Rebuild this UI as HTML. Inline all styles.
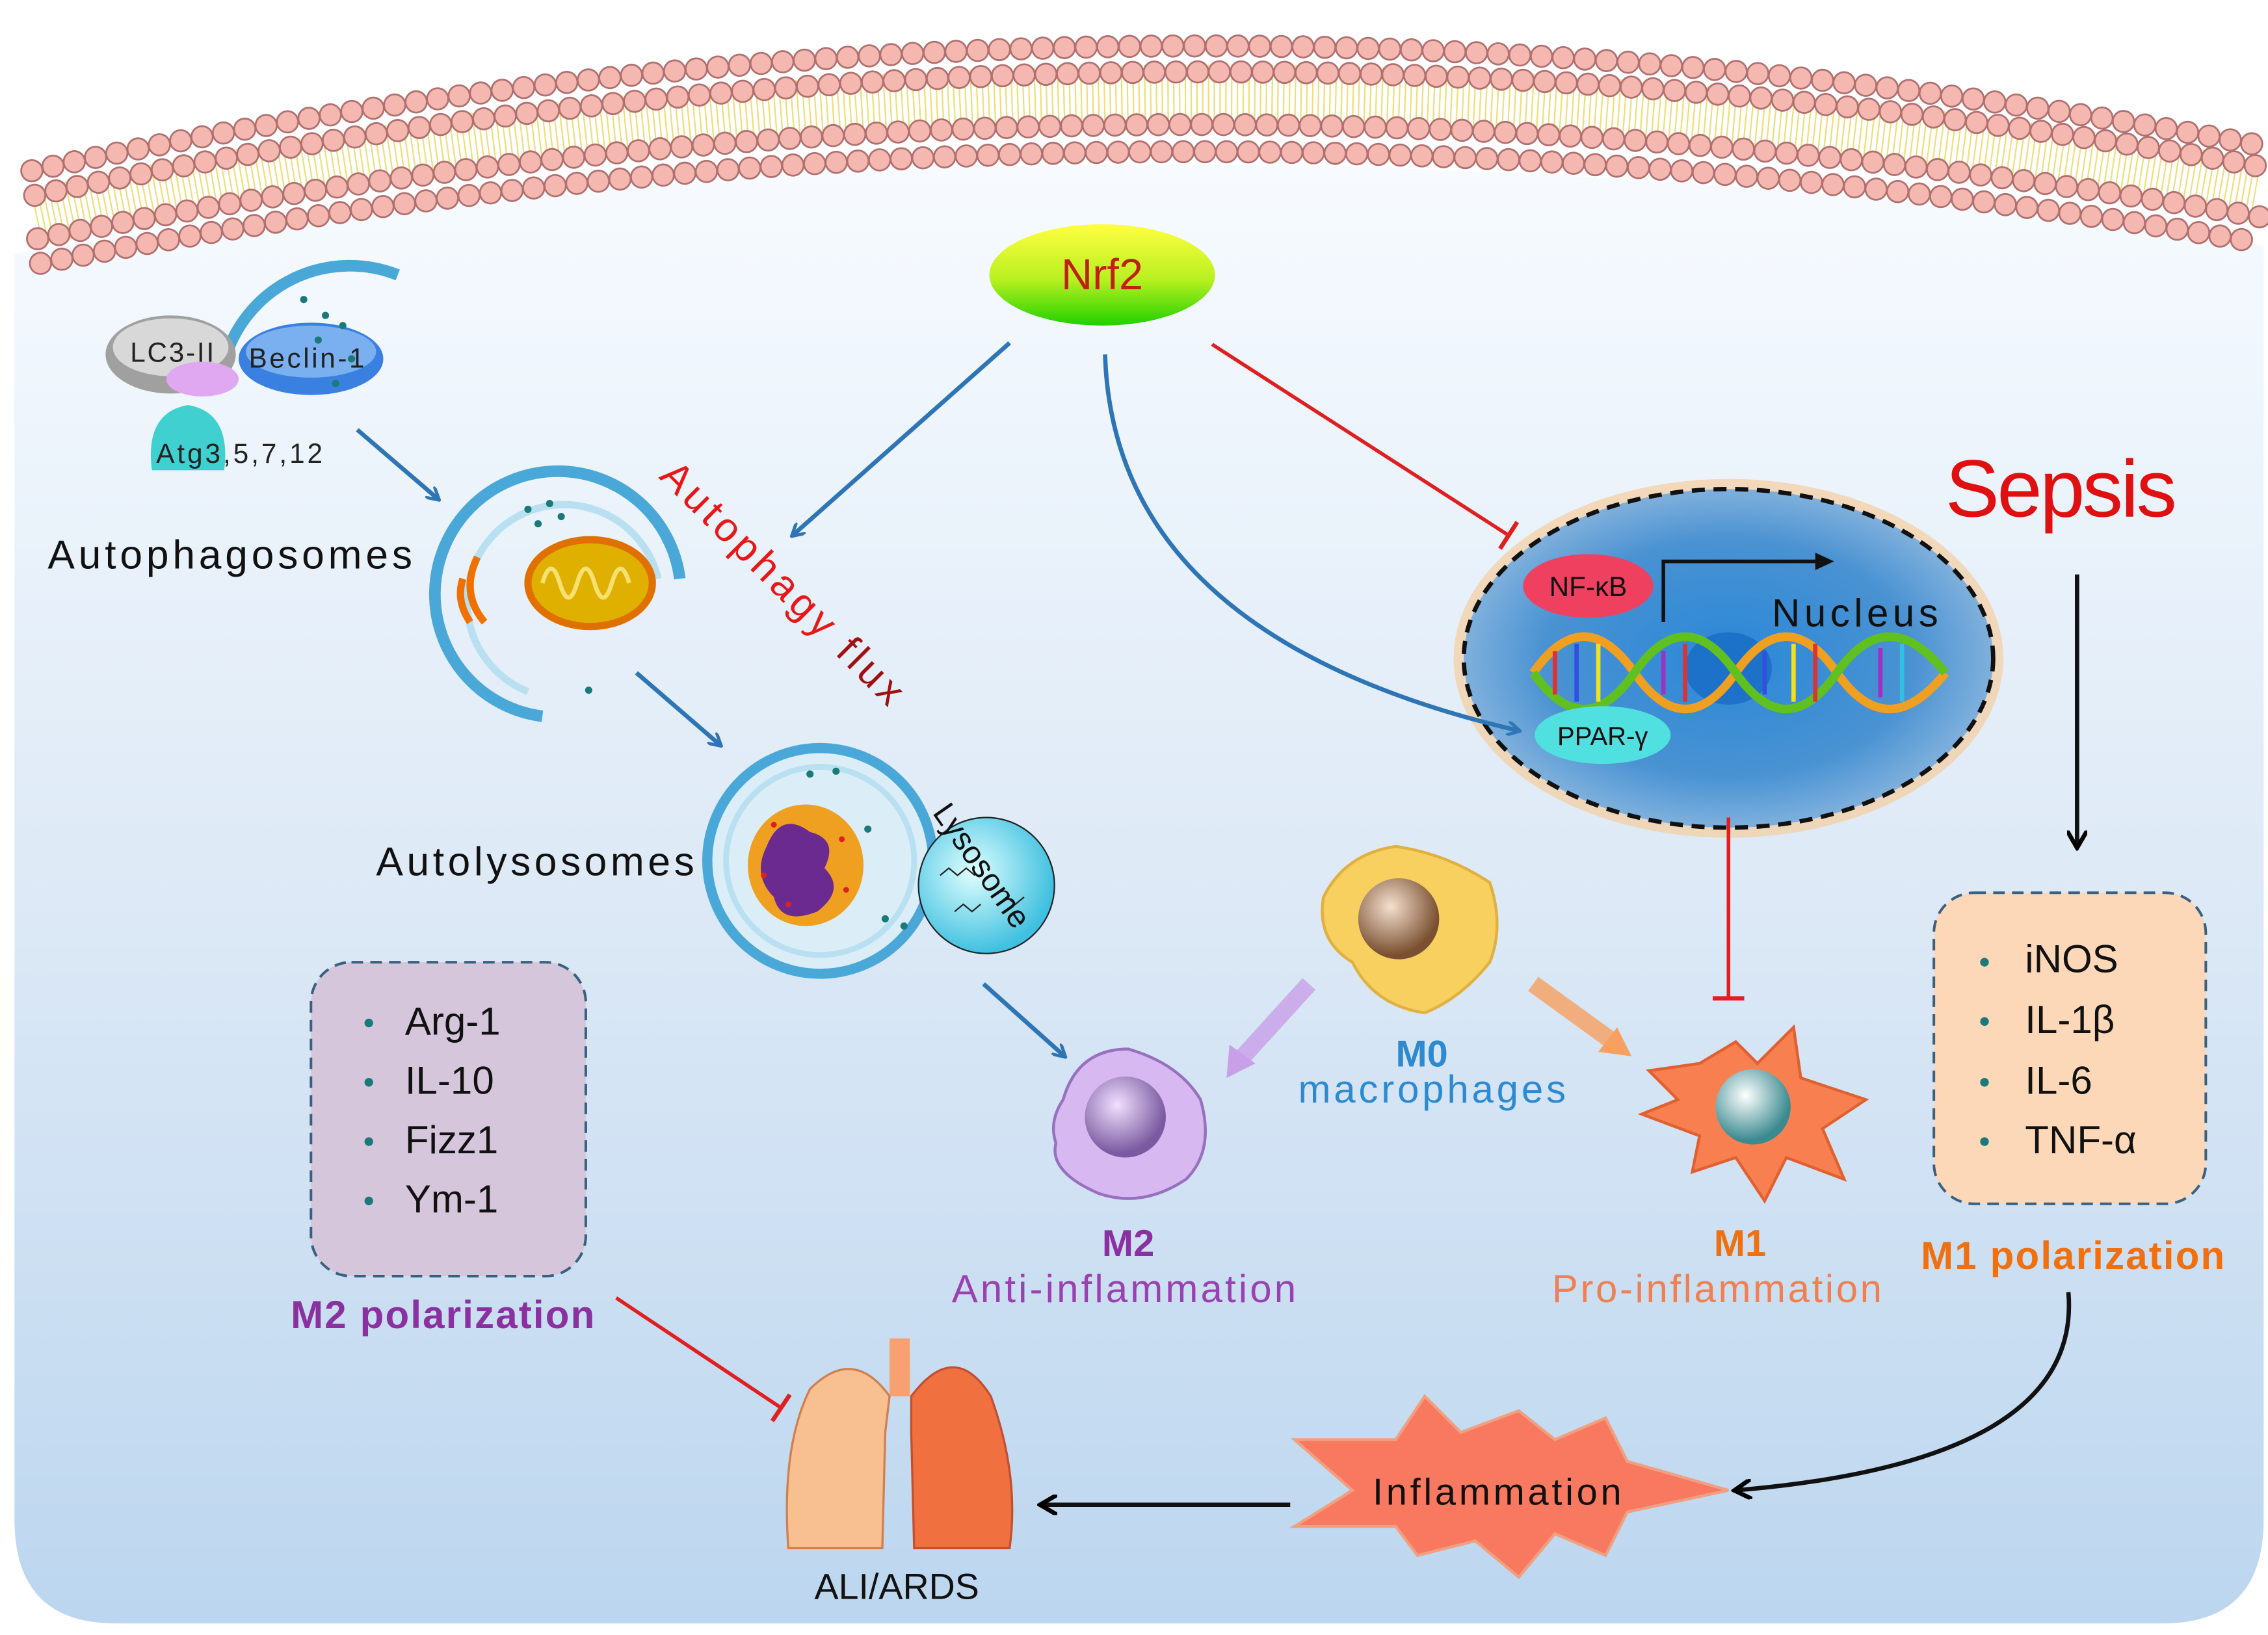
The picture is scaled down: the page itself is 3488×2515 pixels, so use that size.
<!DOCTYPE html>
<html><head><meta charset="utf-8"><style>
html,body{margin:0;padding:0;background:#fff;}
svg{display:block;font-family:"Liberation Sans",sans-serif;}
</style></head><body>
<svg width="3488" height="2515" viewBox="0 0 1568 1130" preserveAspectRatio="none" xmlns="http://www.w3.org/2000/svg">
<defs>
<linearGradient id="cell" x1="0" y1="0" x2="0" y2="1">
<stop offset="0" stop-color="#f7fbff"/><stop offset="0.5" stop-color="#dde9f6"/><stop offset="1" stop-color="#bcd6ef"/></linearGradient>
<linearGradient id="nrf" x1="0" y1="0" x2="0" y2="1">
<stop offset="0" stop-color="#ffff40"/><stop offset="0.55" stop-color="#b8f020"/><stop offset="1" stop-color="#20d000"/></linearGradient>
<radialGradient id="nuc" cx="0.5" cy="0.5" r="0.5">
<stop offset="0" stop-color="#2a88d8"/><stop offset="0.7" stop-color="#4a92d2"/><stop offset="1" stop-color="#7fb0dc"/></radialGradient>
<radialGradient id="ball" cx="0.4" cy="0.35" r="0.6">
<stop offset="0" stop-color="#fff"/><stop offset="1" stop-color="#3a8a90"/></radialGradient>
<radialGradient id="ballb" cx="0.4" cy="0.35" r="0.6">
<stop offset="0" stop-color="#f5e0d0"/><stop offset="1" stop-color="#7a5030"/></radialGradient>
<radialGradient id="ballp" cx="0.4" cy="0.35" r="0.6">
<stop offset="0" stop-color="#f0e0ff"/><stop offset="1" stop-color="#7a5aa0"/></radialGradient>
<radialGradient id="lys" cx="0.4" cy="0.4" r="0.6">
<stop offset="0" stop-color="#e0ffff"/><stop offset="1" stop-color="#40c0e0"/></radialGradient>
<marker id="ab" markerWidth="10" markerHeight="10" refX="8" refY="5" orient="auto" markerUnits="userSpaceOnUse"><path d="M0,0 L9,5 L0,10" fill="none" stroke="#2e75b6" stroke-width="2.2"/></marker>
<marker id="ak" markerWidth="14" markerHeight="14" refX="11" refY="7" orient="auto" markerUnits="userSpaceOnUse"><path d="M0,0 L12,7 L0,14" fill="none" stroke="#000" stroke-width="3"/></marker>
<marker id="tr" markerWidth="4" markerHeight="22" refX="2" refY="11" orient="auto" markerUnits="userSpaceOnUse"><path d="M2,0 L2,22" stroke="#e02020" stroke-width="3"/></marker>
</defs>

<path d="M10,175 Q780,55 1565,170 L1565,1050 Q1565,1122 1495,1122 L80,1122 Q10,1122 10,1050 Z" fill="url(#cell)"/>

<g fill="none" stroke-linecap="round">
<path d="M25,150 Q780,-10 1560,130" stroke="#e8d040" stroke-width="40" stroke-dasharray="1 3" stroke-linecap="butt" opacity="0.7"/>
<path d="M22,118 Q780,-45 1560,100" stroke="#b07070" stroke-width="16" stroke-dasharray="0 15"/>
<path d="M22,118 Q780,-45 1560,100" stroke="#f4b8b0" stroke-width="13.5" stroke-dasharray="0 15"/>
<path d="M24,135 Q780,-25 1562,115" stroke="#b07070" stroke-width="16" stroke-dasharray="0 15"/>
<path d="M24,135 Q780,-25 1562,115" stroke="#f4b8b0" stroke-width="13.5" stroke-dasharray="0 15"/>
<path d="M26,165 Q780,15 1563,150" stroke="#b07070" stroke-width="16" stroke-dasharray="0 15"/>
<path d="M26,165 Q780,15 1563,150" stroke="#f4b8b0" stroke-width="13.5" stroke-dasharray="0 15"/>
<path d="M28,182 Q780,35 1564,168" stroke="#b07070" stroke-width="16" stroke-dasharray="0 15"/>
<path d="M28,182 Q780,35 1564,168" stroke="#f4b8b0" stroke-width="13.5" stroke-dasharray="0 15"/>
</g>

<path d="M155,250 A90,90 0 0 1 275,190" fill="none" stroke="#4aa8d8" stroke-width="8"/>
<ellipse cx="118" cy="245" rx="45" ry="27" fill="#a0a0a0"/>
<ellipse cx="118" cy="240" rx="40" ry="20" fill="#d8d8d8"/>
<ellipse cx="140" cy="262" rx="25" ry="12" fill="#e0a8f0"/>
<ellipse cx="215" cy="248" rx="50" ry="25" fill="#3a80e0"/>
<ellipse cx="215" cy="243" rx="45" ry="18" fill="#7ab0f0"/>
<path d="M105,325 Q100,285 130,280 Q160,285 155,325 Z" fill="#40d0d0"/>
<text x="90" y="250" font-size="19" fill="#222" textLength="58">LC3-II</text>
<text x="172" y="254" font-size="19" fill="#222" textLength="80">Beclin-1</text>
<text x="108" y="320" font-size="19" fill="#222" textLength="115">Atg3,5,7,12</text>
<g fill="#1a7a7a"><circle cx="210" cy="207" r="2.5"/><circle cx="225" cy="218" r="2.5"/><circle cx="237" cy="225" r="2.5"/><circle cx="220" cy="235" r="2.5"/><circle cx="243" cy="248" r="2.5"/><circle cx="232" cy="265" r="2.5"/></g>

<line x1="247" y1="297" x2="303" y2="345" stroke="#2e75b6" stroke-width="3" marker-end="url(#ab)"/>
<text x="33" y="393" font-size="28" fill="#111" textLength="252">Autophagosomes</text>

<path d="M375,495 A85,85 0 1 1 470,400" fill="none" stroke="#4aa8d8" stroke-width="8"/>
<path d="M365,478 A67,67 0 1 1 455,400" fill="none" stroke="#b8e0f0" stroke-width="5"/>
<ellipse cx="408" cy="403" rx="43" ry="30" fill="#e0b000" stroke="#e07000" stroke-width="5"/>
<path d="M375,403 q6,-20 12,0 q6,20 12,0 q6,-20 12,0 q6,20 12,0 q6,-20 12,0" stroke="#f5e070" stroke-width="3" fill="none"/>
<path d="M330,385 q-12,25 5,45 M320,400 q-5,15 5,30" stroke="#f07000" stroke-width="5" fill="none"/>
<g fill="#1a7a7a"><circle cx="365" cy="352" r="2.5"/><circle cx="380" cy="348" r="2.5"/><circle cx="372" cy="362" r="2.5"/><circle cx="388" cy="357" r="2.5"/><circle cx="407" cy="477" r="2.5"/></g>

<line x1="440" y1="465" x2="498" y2="515" stroke="#2e75b6" stroke-width="3" marker-end="url(#ab)"/>
<text x="260" y="605" font-size="28" fill="#111" textLength="220">Autolysosomes</text>

<circle cx="567" cy="595" r="78" fill="#dbeef8" stroke="#4aa8d8" stroke-width="7"/>
<circle cx="567" cy="595" r="65" fill="none" stroke="#b8e0f0" stroke-width="4"/>
<ellipse cx="557" cy="598" rx="40" ry="42" fill="#f0a020"/>
<path d="M530,585 q10,-25 30,-10 q20,5 10,25 q15,15 -5,30 q-25,10 -30,-10 q-15,-15 -5,-35z" fill="#6a2a90"/>
<g fill="#e02020"><circle cx="535" cy="570" r="2"/><circle cx="582" cy="580" r="2"/><circle cx="545" cy="625" r="2"/><circle cx="585" cy="615" r="2"/><circle cx="528" cy="605" r="2"/></g>
<g fill="#1a7a7a"><circle cx="560" cy="535" r="2.5"/><circle cx="578" cy="533" r="2.5"/><circle cx="600" cy="573" r="2.5"/><circle cx="612" cy="635" r="2.5"/><circle cx="625" cy="640" r="2.5"/></g>
<circle cx="682" cy="612" r="47" fill="url(#lys)" stroke="#222" stroke-width="1"/>
<path d="M650,605 l6,-5 l6,5 l6,-5 l6,5 M690,625 l6,-5 l6,5 l6,-5 M660,630 l6,-5 l6,5 l6,-5" stroke="#222" fill="none"/>
<text x="640" y="570" font-size="22" fill="#111" transform="rotate(55 650 570)">Lysosome</text>

<line x1="680" y1="680" x2="736" y2="730" stroke="#2e75b6" stroke-width="3" marker-end="url(#ab)"/>

<ellipse cx="762" cy="190" rx="78" ry="35" fill="url(#nrf)"/>
<text x="762" y="200" font-size="30" fill="#c02010" text-anchor="middle">Nrf2</text>
<line x1="698" y1="237" x2="548" y2="370" stroke="#2e75b6" stroke-width="3" marker-end="url(#ab)"/>
<text x="455" y="330" font-size="28" fill="#e81818" transform="rotate(45 455 330)" textLength="225">Autophagy <tspan fill="#a01010">flux</tspan></text>
<line x1="838" y1="238" x2="1043" y2="370" stroke="#e02020" stroke-width="2.5" marker-end="url(#tr)"/>

<ellipse cx="1195" cy="455" rx="190" ry="124" fill="#f8c890" opacity="0.6"/>
<ellipse cx="1195" cy="455" rx="183" ry="117" fill="url(#nuc)" stroke="#111" stroke-width="3" stroke-dasharray="9 6"/>
<ellipse cx="1195" cy="462" rx="30" ry="25" fill="#1060c0" opacity="0.6"/>
<g fill="none" stroke-width="6">
<path d="M1060,465 q35,-50 70,0 q35,50 70,0 q35,-50 70,0 q35,50 75,0" stroke="#f0a020"/>
<path d="M1060,465 q35,50 70,0 q35,-50 70,0 q35,50 70,0 q35,-50 75,0" stroke="#60c020"/>
</g>
<g stroke-width="3">
<line x1="1075" y1="450" x2="1075" y2="480" stroke="#e03030"/><line x1="1090" y1="445" x2="1090" y2="485" stroke="#3050e0"/>
<line x1="1105" y1="445" x2="1105" y2="485" stroke="#f0e020"/><line x1="1150" y1="450" x2="1150" y2="480" stroke="#a030c0"/>
<line x1="1165" y1="445" x2="1165" y2="485" stroke="#e03030"/><line x1="1220" y1="450" x2="1220" y2="480" stroke="#3050e0"/>
<line x1="1240" y1="445" x2="1240" y2="485" stroke="#f0e020"/><line x1="1255" y1="445" x2="1255" y2="485" stroke="#e03030"/>
<line x1="1300" y1="448" x2="1300" y2="482" stroke="#a030c0"/><line x1="1315" y1="445" x2="1315" y2="485" stroke="#30c0e0"/>
</g>
<ellipse cx="1098" cy="405" rx="45" ry="22" fill="#f04060"/>
<text x="1098" y="412" font-size="19" fill="#111" text-anchor="middle">NF-κB</text>
<path d="M1150,430 L1150,388 L1262,388" fill="none" stroke="#111" stroke-width="2.5"/>
<path d="M1255,382 L1268,388 L1255,394 Z" fill="#111"/>
<text x="1225" y="433" font-size="27" fill="#111" textLength="115">Nucleus</text>
<ellipse cx="1108" cy="508" rx="47" ry="20" fill="#50e0e0"/>
<text x="1108" y="515" font-size="18" fill="#111" text-anchor="middle">PPAR-γ</text>
<path d="M764,245 Q770,440 1050,505" fill="none" stroke="#2e75b6" stroke-width="3" marker-end="url(#ab)"/>
<line x1="1195" y1="565" x2="1195" y2="690" stroke="#e02020" stroke-width="2.5" marker-end="url(#tr)"/>

<text x="1425" y="357" font-size="56" fill="#e01010" text-anchor="middle" textLength="160">Sepsis</text>
<line x1="1436" y1="397" x2="1436" y2="585" stroke="#111" stroke-width="3" marker-end="url(#ak)"/>

<rect x="1337" y="617" width="188" height="215" rx="28" fill="#fcd8b8" stroke="#3a6080" stroke-width="1.8" stroke-dasharray="8 5"/>
<g font-size="27" fill="#111"><text x="1400" y="672">iNOS</text><text x="1400" y="714">IL-1β</text><text x="1400" y="756">IL-6</text><text x="1400" y="797">TNF-α</text></g>
<g fill="#1a7a7a"><circle cx="1372" cy="665" r="3"/><circle cx="1372" cy="706" r="3"/><circle cx="1372" cy="748" r="3"/><circle cx="1372" cy="789" r="3"/></g>
<text x="1433" y="877" font-size="27" font-weight="bold" fill="#f07010" text-anchor="middle" textLength="210">M1 polarization</text>
<path d="M1430,893 Q1440,1010 1200,1030" fill="none" stroke="#111" stroke-width="3" marker-end="url(#ak)"/>

<rect x="215" y="665" width="190" height="217" rx="28" fill="#d6c6dc" stroke="#3a6080" stroke-width="1.8" stroke-dasharray="8 5"/>
<g font-size="27" fill="#111"><text x="280" y="715">Arg-1</text><text x="280" y="756">IL-10</text><text x="280" y="797">Fizz1</text><text x="280" y="838">Ym-1</text></g>
<g fill="#1a7a7a"><circle cx="255" cy="707" r="3"/><circle cx="255" cy="748" r="3"/><circle cx="255" cy="789" r="3"/><circle cx="255" cy="830" r="3"/></g>
<text x="306" y="918" font-size="27" font-weight="bold" fill="#8a30a0" text-anchor="middle" textLength="210">M2 polarization</text>
<line x1="426" y1="897" x2="540" y2="973" stroke="#e02020" stroke-width="2.5" marker-end="url(#tr)"/>

<path d="M915,620 Q930,590 965,585 Q1000,590 1030,610 Q1040,640 1030,665 Q1010,690 985,700 Q950,695 935,665 Q910,650 915,620 Z" fill="#f8d060" stroke="#e0b040" stroke-width="2"/>
<circle cx="967" cy="635" r="28" fill="url(#ballb)"/>
<text x="983" y="737" font-size="26" font-weight="bold" fill="#2e8ad0" text-anchor="middle">M0</text>
<text x="990" y="762" font-size="27" fill="#2e8ad0" text-anchor="middle" textLength="185">macrophages</text>
<line x1="905" y1="680" x2="855" y2="735" stroke="#c8a0e8" stroke-width="12" opacity="0.8"/>
<path d="M848,745 L850,722 L868,735 Z" fill="#c8a0e8"/>
<line x1="1060" y1="680" x2="1118" y2="722" stroke="#f8a060" stroke-width="12" opacity="0.8"/>
<path d="M1128,730 L1105,727 L1118,710 Z" fill="#f8a060"/>

<path d="M735,760 Q745,725 780,725 Q815,735 830,760 Q840,795 820,815 Q790,835 760,825 Q725,810 730,790 Q725,775 735,760 Z" fill="#d8b8f0" stroke="#9870c0" stroke-width="2"/>
<circle cx="778" cy="772" r="28" fill="url(#ballp)"/>
<text x="780" y="868" font-size="26" font-weight="bold" fill="#8a30a0" text-anchor="middle">M2</text>
<text x="777" y="900" font-size="27" fill="#9a40b0" text-anchor="middle" textLength="238">Anti-inflammation</text>

<path d="M1140,740 L1175,735 L1200,720 L1215,735 L1240,710 L1245,745 L1290,760 L1260,780 L1275,815 L1235,800 L1220,830 L1200,800 L1170,810 L1175,785 L1135,770 L1160,760 Z" fill="#f88050" stroke="#e06030" stroke-width="2"/>
<circle cx="1212" cy="765" r="26" fill="url(#ball)"/>
<text x="1203" y="868" font-size="26" font-weight="bold" fill="#f07010" text-anchor="middle">M1</text>
<text x="1187" y="900" font-size="27" fill="#f08050" text-anchor="middle" textLength="228">Pro-inflammation</text>

<path d="M895,995 L965,995 L985,965 L1010,990 L1050,975 L1075,995 L1110,980 L1125,1010 L1195,1030 L1125,1045 L1110,1075 L1075,1060 L1050,1090 L1020,1065 L980,1075 L965,1055 L895,1055 L935,1030 Z" fill="#f87860" stroke="#f0a080" stroke-width="2"/>
<text x="1035" y="1040" font-size="26" fill="#111" text-anchor="middle" textLength="172">Inflammation</text>
<line x1="892" y1="1040" x2="720" y2="1040" stroke="#111" stroke-width="3" marker-end="url(#ak)"/>

<rect x="615" y="925" width="14" height="40" fill="#f8a070"/>
<path d="M615,965 Q590,930 560,960 Q540,1000 545,1070 L610,1070 L612,990 Z" fill="#f8c090" stroke="#d08050" stroke-width="1.5"/>
<path d="M630,965 Q660,925 685,965 Q705,1020 698,1070 L632,1070 L630,990 Z" fill="#f07040" stroke="#c05030" stroke-width="1.5"/>
<text x="620" y="1105" font-size="25" fill="#111" text-anchor="middle">ALI/ARDS</text>
</svg>
</body></html>
